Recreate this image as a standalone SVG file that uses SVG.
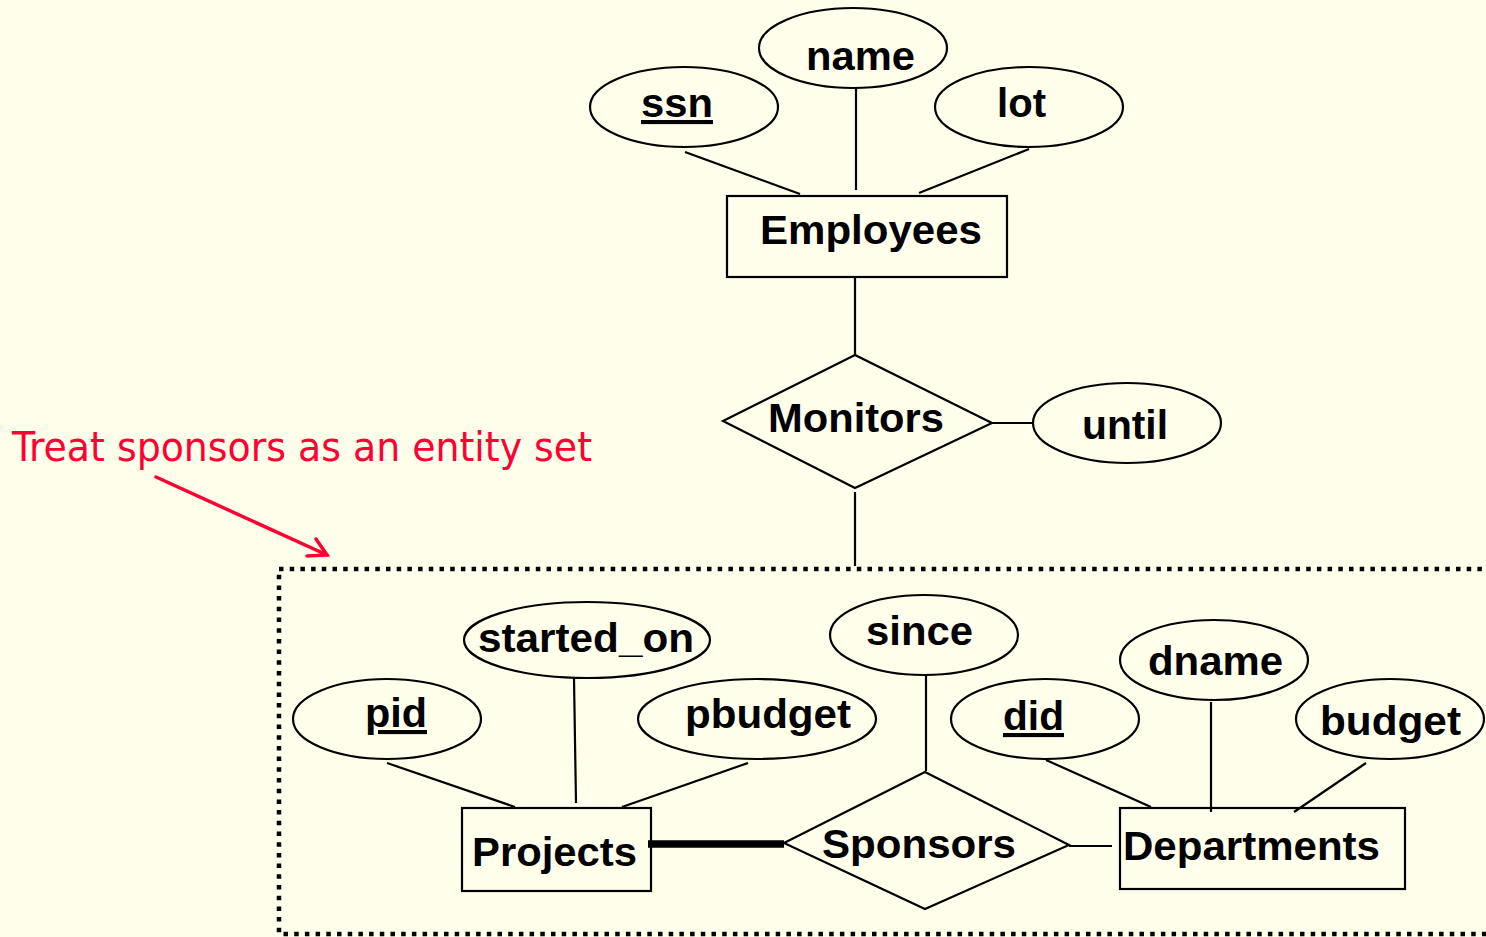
<svg xmlns="http://www.w3.org/2000/svg" width="1486" height="937" viewBox="0 0 1486 937">
  <style>
    .attr { fill: none; stroke: #000; stroke-width: 2.2; }
    .ent { fill: none; stroke: #000; stroke-width: 2.2; }
    .rel { fill: none; stroke: #000; stroke-width: 2.2; stroke-linejoin: miter; }
    .lbl { font-family: "Liberation Sans", Arial, sans-serif; font-weight: bold; font-size: 41px; fill: #000; }
    .key { text-decoration: underline; }
    .conn line { stroke: #000; stroke-width: 2.2; }
    .note { font-family: "DejaVu Sans Condensed", "DejaVu Sans", sans-serif; font-stretch: condensed; font-size: 41px; fill: #FF0033; }
  </style>
  <rect width="1486" height="937" fill="#FFFFEB"/>

  <!-- aggregation boundary around Sponsors -->
  <rect id="aggregate" x="279" y="569" width="1320" height="365" fill="none" stroke="#000" stroke-width="4.5" stroke-dasharray="4.5 6.2"/>

  <!-- connectors -->
  <g id="connectors" class="conn">
    <line x1="685" y1="152" x2="800" y2="194"/>
    <line x1="856" y1="88" x2="856" y2="190"/>
    <line x1="1029" y1="149" x2="919" y2="193"/>
    <line x1="855" y1="278" x2="855" y2="355"/>
    <line x1="992" y1="423" x2="1033" y2="423"/>
    <line x1="855" y1="492" x2="855" y2="566"/>
    <line x1="387" y1="763" x2="515" y2="807"/>
    <line x1="574" y1="678" x2="576" y2="803"/>
    <line x1="748" y1="763" x2="622" y2="807"/>
    <line x1="648" y1="844" x2="784" y2="844" style="stroke-width:7.5"/>
    <line x1="926" y1="675" x2="926" y2="771"/>
    <line x1="1069" y1="846" x2="1112" y2="846"/>
    <line x1="1046" y1="760" x2="1151" y2="807"/>
    <line x1="1211" y1="702" x2="1211" y2="812"/>
    <line x1="1366" y1="763" x2="1294" y2="812"/>
  </g>

  <!-- Employees and its attributes -->
  <g id="ssn">
    <ellipse class="attr" cx="684" cy="107" rx="94" ry="40"/>
    <text class="lbl key" x="641" y="117" textLength="72" lengthAdjust="spacingAndGlyphs">ssn</text>
  </g>
  <g id="name">
    <ellipse class="attr" cx="853" cy="48" rx="94" ry="40"/>
    <text class="lbl" x="806" y="70" textLength="109" lengthAdjust="spacingAndGlyphs">name</text>
  </g>
  <g id="lot">
    <ellipse class="attr" cx="1029" cy="107" rx="94" ry="40"/>
    <text class="lbl" x="997" y="117" textLength="49" lengthAdjust="spacingAndGlyphs">lot</text>
  </g>
  <g id="employees">
    <rect class="ent" x="727" y="196" width="280" height="81"/>
    <text class="lbl" x="760" y="244" textLength="222" lengthAdjust="spacingAndGlyphs">Employees</text>
  </g>

  <!-- Monitors relationship -->
  <g id="monitors">
    <polygon class="rel" points="723,421 855,355 992,423 855,488"/>
    <text class="lbl" x="768" y="432" textLength="176" lengthAdjust="spacingAndGlyphs">Monitors</text>
  </g>
  <g id="until">
    <ellipse class="attr" cx="1127" cy="423" rx="94" ry="40"/>
    <text class="lbl" x="1082" y="439" textLength="86" lengthAdjust="spacingAndGlyphs">until</text>
  </g>

  <!-- Projects and its attributes -->
  <g id="pid">
    <ellipse class="attr" cx="387" cy="719" rx="94" ry="40"/>
    <text class="lbl key" x="365" y="727" textLength="62" lengthAdjust="spacingAndGlyphs">pid</text>
  </g>
  <g id="started_on">
    <ellipse class="attr" cx="587" cy="640" rx="123" ry="38"/>
    <text class="lbl" x="478" y="652" textLength="216" lengthAdjust="spacingAndGlyphs">started_on</text>
  </g>
  <g id="pbudget">
    <ellipse class="attr" cx="757" cy="719" rx="119" ry="40"/>
    <text class="lbl" x="685" y="728" textLength="166" lengthAdjust="spacingAndGlyphs">pbudget</text>
  </g>
  <g id="projects">
    <rect class="ent" x="462" y="808" width="189" height="83"/>
    <text class="lbl" x="472" y="866" textLength="165" lengthAdjust="spacingAndGlyphs">Projects</text>
  </g>

  <!-- Sponsors relationship -->
  <g id="since">
    <ellipse class="attr" cx="924" cy="635" rx="94" ry="40"/>
    <text class="lbl" x="866" y="645" textLength="107" lengthAdjust="spacingAndGlyphs">since</text>
  </g>
  <g id="sponsors">
    <polygon class="rel" points="784,843 925,772 1069,845 925,909"/>
    <text class="lbl" x="822" y="858" textLength="194" lengthAdjust="spacingAndGlyphs">Sponsors</text>
  </g>

  <!-- Departments and its attributes -->
  <g id="did">
    <ellipse class="attr" cx="1045" cy="719" rx="94" ry="40"/>
    <text class="lbl key" x="1003" y="730" textLength="61" lengthAdjust="spacingAndGlyphs">did</text>
  </g>
  <g id="dname">
    <ellipse class="attr" cx="1214" cy="660" rx="94" ry="40"/>
    <text class="lbl" x="1148" y="675" textLength="135" lengthAdjust="spacingAndGlyphs">dname</text>
  </g>
  <g id="budget">
    <ellipse class="attr" cx="1390" cy="719" rx="94" ry="40"/>
    <text class="lbl" x="1320" y="735" textLength="141" lengthAdjust="spacingAndGlyphs">budget</text>
  </g>
  <g id="departments">
    <rect class="ent" x="1120" y="808" width="285" height="81"/>
    <text class="lbl" x="1123" y="860" textLength="257" lengthAdjust="spacingAndGlyphs">Departments</text>
  </g>

  <!-- annotation -->
  <g id="note">
    <text class="note" x="12" y="461" textLength="580" lengthAdjust="spacingAndGlyphs">Treat sponsors as an entity set</text>
    <g fill="none" stroke="#FF0033" stroke-width="3.5" stroke-linecap="round" stroke-linejoin="miter">
      <line x1="156" y1="477" x2="327" y2="555"/>
      <polyline points="316,539 327,555 307,556"/>
    </g>
  </g>
</svg>
